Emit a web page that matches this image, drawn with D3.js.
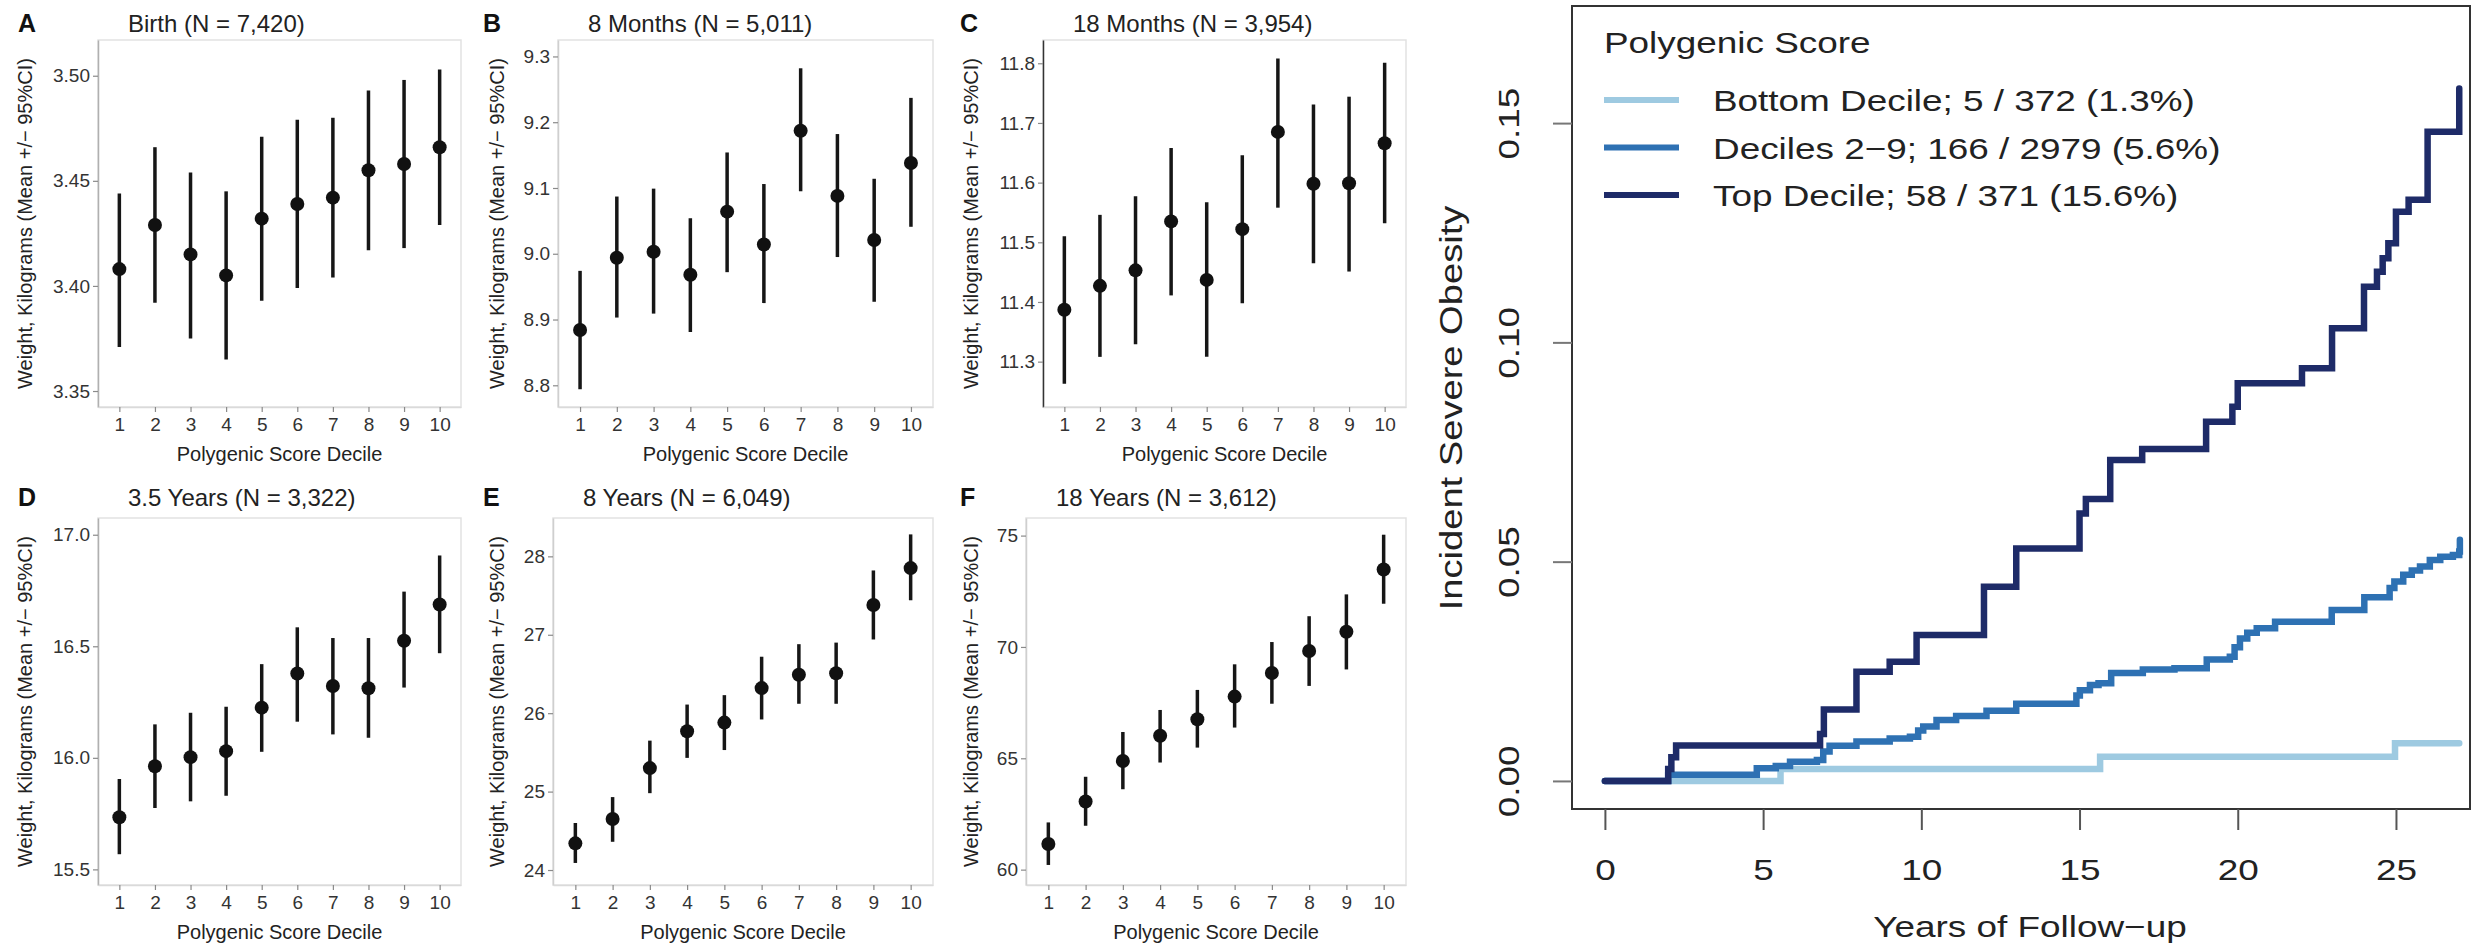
<!DOCTYPE html>
<html lang="en">
<head>
<meta charset="UTF-8">
<title>Polygenic score, weight and incident severe obesity</title>
<script src="https://d3js.org/d3.v7.min.js"></script>
<style>
  body { margin: 0; background: #fff; }
  svg { display: block; font-family: "Liberation Sans", Arial, sans-serif; }
</style>
</head>
<body>
<svg width="2489" height="946"></svg>
<script>
// ---- data: weight by polygenic score decile (mean and 95% CI) ----
var deciles = [1, 2, 3, 4, 5, 6, 7, 8, 9, 10];
var panelLetters = ["A", "B", "C", "D", "E", "F"];
var panelTitles = ["Birth (N = 7,420)", "8 Months (N = 5,011)", "18 Months (N = 3,954)",
                   "3.5 Years (N = 3,322)", "8 Years (N = 6,049)", "18 Years (N = 3,612)"];

var birthMean = [3.408, 3.429, 3.415, 3.405, 3.432, 3.439, 3.442, 3.455, 3.458, 3.466];
var birthLow  = [3.371, 3.392, 3.375, 3.365, 3.393, 3.399, 3.404, 3.417, 3.418, 3.429];
var birthHigh = [3.444, 3.466, 3.454, 3.445, 3.471, 3.479, 3.480, 3.493, 3.498, 3.503];
var birthTicks = [3.35, 3.40, 3.45, 3.50];

var m8Mean = [8.884, 8.994, 9.003, 8.968, 9.064, 9.014, 9.187, 9.088, 9.021, 9.138];
var m8Low  = [8.794, 8.903, 8.909, 8.881, 8.972, 8.925, 9.095, 8.995, 8.927, 9.041];
var m8High = [8.974, 9.087, 9.099, 9.054, 9.154, 9.106, 9.282, 9.182, 9.114, 9.237];
var m8Ticks = [8.8, 8.9, 9.0, 9.1, 9.2, 9.3];

var m18Mean = [11.387, 11.427, 11.453, 11.535, 11.437, 11.522, 11.685, 11.598, 11.599, 11.666];
var m18Low  = [11.263, 11.308, 11.329, 11.411, 11.308, 11.398, 11.558, 11.465, 11.451, 11.532];
var m18High = [11.510, 11.546, 11.577, 11.658, 11.567, 11.646, 11.808, 11.731, 11.744, 11.801];
var m18Ticks = [11.3, 11.4, 11.5, 11.6, 11.7, 11.8];

var y35Mean = [15.734, 15.962, 16.003, 16.030, 16.225, 16.378, 16.322, 16.312, 16.525, 16.687];
var y35Low  = [15.568, 15.775, 15.805, 15.830, 16.027, 16.162, 16.105, 16.090, 16.315, 16.469];
var y35High = [15.905, 16.150, 16.202, 16.229, 16.420, 16.585, 16.537, 16.537, 16.745, 16.907];
var y35Ticks = [15.5, 16.0, 16.5, 17.0];

var y8Mean = [24.34, 24.65, 25.30, 25.77, 25.88, 26.32, 26.49, 26.51, 27.38, 27.85];
var y8Low  = [24.09, 24.36, 24.98, 25.43, 25.53, 25.92, 26.12, 26.12, 26.94, 27.44];
var y8High = [24.60, 24.93, 25.65, 26.11, 26.23, 26.72, 26.88, 26.90, 27.82, 28.28];
var y8Ticks = [24, 25, 26, 27, 28];

var y18Mean = [61.15, 63.06, 64.88, 66.01, 66.75, 67.77, 68.83, 69.82, 70.68, 73.48];
var y18Low  = [60.21, 61.97, 63.61, 64.81, 65.48, 66.38, 67.45, 68.25, 68.99, 71.94];
var y18High = [62.12, 64.17, 66.18, 67.17, 68.07, 69.22, 70.22, 71.38, 72.36, 75.04];
var y18Ticks = [60, 65, 70, 75];

// ---- data: cumulative incidence of severe obesity (years, proportion) ----
var kmBottom = [[0, 0], [5.55, 0.0027], [15.65, 0.0055], [24.97, 0.0086], [27.0, 0.0086]];
var kmMiddle = [[0, 0], [2.0, 0.0014], [4.8, 0.0029], [5.4, 0.0034], [5.85, 0.0044], [6.7, 0.0048],
  [6.9, 0.0067], [7.1, 0.0080], [7.95, 0.0090], [9.0, 0.0097], [9.64, 0.0101], [9.9, 0.0115],
  [10.06, 0.0124], [10.48, 0.0139], [11.1, 0.0148], [12.06, 0.0160], [13.0, 0.0176], [14.9, 0.0195],
  [15.01, 0.0207], [15.33, 0.0219], [15.6, 0.0223], [16.0, 0.0246], [17.0, 0.0254], [18.0, 0.0257],
  [19.02, 0.0277], [19.75, 0.0283], [19.9, 0.0305], [20.07, 0.0325], [20.3, 0.0338], [20.6, 0.0348],
  [21.18, 0.0363], [22.97, 0.0390], [24.0, 0.0419], [24.8, 0.0440], [24.95, 0.0455], [25.23, 0.0470],
  [25.5, 0.0480], [25.76, 0.0489], [26.07, 0.0504], [26.4, 0.0511], [26.8, 0.0515], [27.0, 0.0523],
  [27.02, 0.0550]];
var kmTop = [[0, 0], [2.0, 0.0027], [2.1, 0.0054], [2.25, 0.0081], [6.8, 0.0107], [6.92, 0.0163],
  [7.95, 0.0249], [9.0, 0.0272], [9.85, 0.0333], [11.98, 0.0443], [13.0, 0.0530], [15.0, 0.0610],
  [15.2, 0.0643], [15.97, 0.0732], [16.98, 0.0757], [19.0, 0.0819], [19.83, 0.0853], [20.0, 0.0907],
  [22.03, 0.0941], [22.98, 0.1032], [23.99, 0.1127], [24.4, 0.1161], [24.58, 0.1192], [24.76, 0.1226],
  [25.0, 0.1298], [25.4, 0.1325], [26.0, 0.1480], [27.0, 0.1579]];
var legendLabels = ["Bottom Decile; 5 / 372 (1.3%)", "Deciles 2\u22129; 166 / 2979 (5.6%)", "Top Decile; 58 / 371 (15.6%)"];
var kmXTicks = [0, 5, 10, 15, 20, 25];
var kmYTicks = [0, 0.05, 0.10, 0.15];

// ---- layout ----
var svg = d3.select("svg");
var rows = [{top: 40, bottom: 407, titleY: 32}, {top: 518, bottom: 885, titleY: 506}];
var letterX = [18, 483, 960];
var yTitleX = [25, 497, 971];

var panels = [
  {mean: birthMean, low: birthLow, high: birthHigh, ticks: birthTicks, fmt: ".2f", row: 0, col: 0, left: 98, right: 461, dom: [3.3424, 3.517], axis: "#b0b0b0"},
  {mean: m8Mean, low: m8Low, high: m8High, ticks: m8Ticks, fmt: ".1f", row: 0, col: 1, left: 558, right: 933, dom: [8.767, 9.325], axis: "#cfcfcf"},
  {mean: m18Mean, low: m18Low, high: m18High, ticks: m18Ticks, fmt: ".1f", row: 0, col: 2, left: 1043, right: 1406, dom: [11.224, 11.839], axis: "#333"},
  {mean: y35Mean, low: y35Low, high: y35High, ticks: y35Ticks, fmt: ".1f", row: 1, col: 0, left: 98, right: 461, dom: [15.430, 17.075], axis: "#b0b0b0"},
  {mean: y8Mean, low: y8Low, high: y8High, ticks: y8Ticks, fmt: "d", row: 1, col: 1, left: 553, right: 933, dom: [23.809, 28.489], axis: "#cfcfcf"},
  {mean: y18Mean, low: y18Low, high: y18High, ticks: y18Ticks, fmt: "d", row: 1, col: 2, left: 1026, right: 1406, dom: [59.31, 75.79], axis: "#cfcfcf"}
];

function styleAxis(sel, size) {
  sel.selectAll(".tick line").attr("stroke", "#8a8a8a").attr("stroke-width", 1.2);
  sel.selectAll(".tick text").attr("fill", "#333").attr("font-size", size);
}

panels.forEach(function(p, i) {
  var r = rows[p.row];
  var g = svg.append("g");
  var x = d3.scaleLinear().domain([0.4, 10.6]).range([p.left, p.right]);
  var y = d3.scaleLinear().domain(p.dom).range([r.bottom, r.top]);

  g.append("rect")
    .attr("x", p.left).attr("y", r.top)
    .attr("width", p.right - p.left).attr("height", r.bottom - r.top)
    .attr("fill", "none").attr("stroke", "#e2e2e2").attr("stroke-width", 1.5);

  var ya = g.append("g").attr("transform", "translate(" + p.left + ",0)")
    .call(d3.axisLeft(y).tickValues(p.ticks).tickFormat(d3.format(p.fmt)).tickSize(5).tickSizeOuter(0).tickPadding(3));
  ya.select(".domain").attr("stroke", p.axis).attr("stroke-width", 1.5);
  styleAxis(ya, 19);

  var xa = g.append("g").attr("transform", "translate(0," + r.bottom + ")")
    .call(d3.axisBottom(x).tickValues(deciles).tickFormat(d3.format("d")).tickSize(5).tickSizeOuter(0).tickPadding(6));
  xa.select(".domain").attr("stroke", "#dadada").attr("stroke-width", 1.5);
  styleAxis(xa, 19);

  g.selectAll(".bar").data(deciles).enter().append("line")
    .attr("x1", function(d) { return x(d); }).attr("x2", function(d) { return x(d); })
    .attr("y1", function(d, j) { return y(p.low[j]); })
    .attr("y2", function(d, j) { return y(p.high[j]); })
    .attr("stroke", "#161616").attr("stroke-width", 3.5);

  g.selectAll(".pt").data(deciles).enter().append("circle")
    .attr("cx", function(d) { return x(d); })
    .attr("cy", function(d, j) { return y(p.mean[j]); })
    .attr("r", 7).attr("fill", "#111");

  g.append("text").attr("x", letterX[p.col]).attr("y", r.titleY)
    .attr("font-size", 25).attr("font-weight", "bold").attr("fill", "#111").text(panelLetters[i]);
  g.append("text").attr("x", p.left + 30).attr("y", r.titleY)
    .attr("font-size", 24).attr("fill", "#222").text(panelTitles[i]);
  g.append("text").attr("x", (p.left + p.right) / 2).attr("y", r.bottom + 54)
    .attr("text-anchor", "middle").attr("font-size", 20).attr("fill", "#222").text("Polygenic Score Decile");
  g.append("text")
    .attr("transform", "translate(" + yTitleX[p.col] + "," + (r.top + r.bottom) / 2 + ") rotate(-90)")
    .attr("text-anchor", "middle").attr("dy", "0.35em").attr("font-size", 20).attr("fill", "#222")
    .text("Weight, Kilograms (Mean +/\u2212 95%CI)");
});

// ---- cumulative incidence panel ----
var stretch = 1.23;
var km = svg.append("g");
var kx = d3.scaleLinear().domain([-1.04, 27.34]).range([1572, 2470]);
var ky = d3.scaleLinear().domain([-0.0064, 0.1767]).range([809, 6]);
var kmColors = ["#9ecae1", "#2e71b3", "#1e2b68"];

var line = d3.line().curve(d3.curveStepAfter)
  .x(function(d) { return kx(d[0]); })
  .y(function(d) { return ky(d[1]); });

[kmBottom, kmMiddle, kmTop].forEach(function(s, i) {
  km.append("path").datum(s).attr("d", line)
    .attr("fill", "none").attr("stroke", kmColors[i]).attr("stroke-width", 6.5)
    .attr("stroke-linejoin", "miter").attr("stroke-linecap", "round");
});

km.append("rect").attr("x", 1572).attr("y", 6).attr("width", 2470 - 1572).attr("height", 809 - 6)
  .attr("fill", "none").attr("stroke", "#333").attr("stroke-width", 2);

var kxa = km.append("g").attr("transform", "translate(0,809)")
  .call(d3.axisBottom(kx).tickValues(kmXTicks).tickSize(21).tickSizeOuter(0).tickPadding(29));
kxa.select(".domain").remove();
kxa.selectAll(".tick line").attr("stroke", "#555").attr("stroke-width", 2);
kxa.selectAll(".tick text").attr("fill", "#222").attr("font-size", 30)
  .attr("transform", "scale(" + stretch + ",1)");

var kya = km.append("g").attr("transform", "translate(1572,0)")
  .call(d3.axisLeft(ky).tickValues(kmYTicks).tickFormat(d3.format(".2f")).tickSize(19).tickSizeOuter(0));
kya.select(".domain").remove();
kya.selectAll(".tick line").attr("stroke", "#777").attr("stroke-width", 2);
kya.selectAll(".tick text").attr("fill", "#222").attr("font-size", 30)
  .attr("x", 0).attr("dy", "0.35em").attr("text-anchor", "middle")
  .attr("transform", "translate(-64,0) rotate(-90) scale(" + stretch + ",1)");

function wideText(x, y, str, size, rot, anchor) {
  km.append("text")
    .attr("transform", "translate(" + x + "," + y + ")" + (rot ? " rotate(-90)" : "") + " scale(" + stretch + ",1)")
    .attr("text-anchor", anchor).attr("font-size", size).attr("fill", "#222").text(str);
}

wideText(2030, 937, "Years of Follow\u2212up", 30, false, "middle");
wideText(1462, 408, "Incident Severe Obesity", 31, true, "middle");
wideText(1604, 53, "Polygenic Score", 30, false, "start");

var legendY = d3.scalePoint().domain(legendLabels).range([100, 195]);
legendLabels.forEach(function(lab, i) {
  km.append("line").attr("x1", 1604).attr("x2", 1679)
    .attr("y1", legendY(lab)).attr("y2", legendY(lab))
    .attr("stroke", kmColors[i]).attr("stroke-width", 6);
  wideText(1713, legendY(lab) + 11, lab, 30, false, "start");
});
</script>
</body>
</html>
